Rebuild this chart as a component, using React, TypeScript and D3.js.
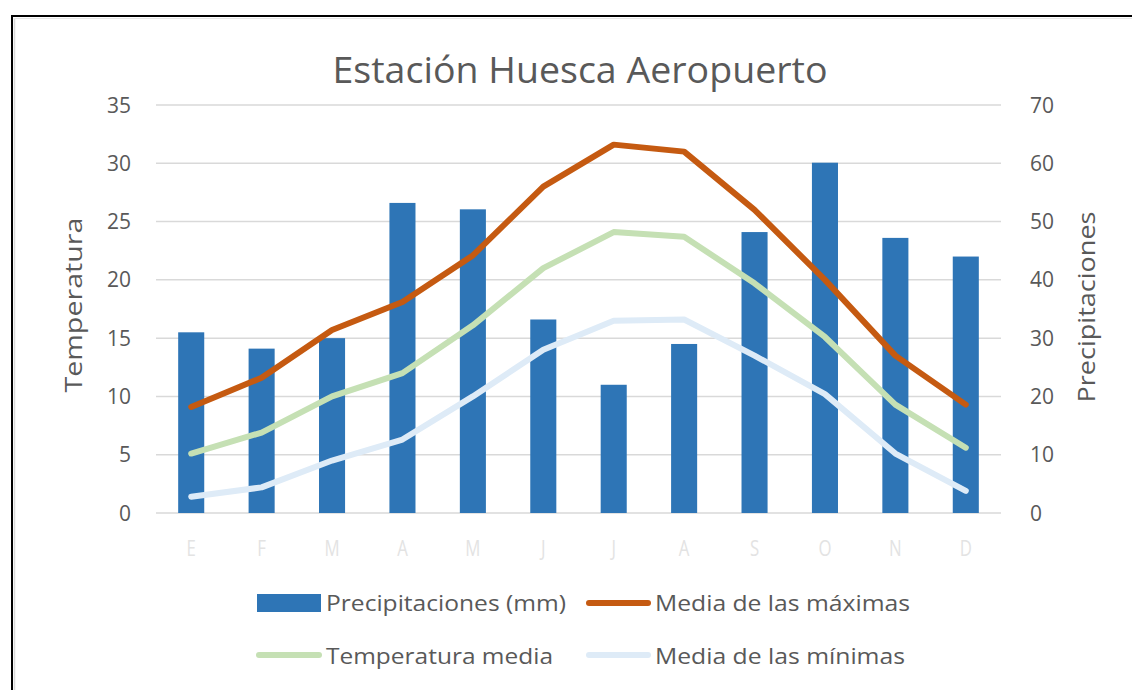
import React from 'react';
import * as d3 from 'd3';

const months = ['E', 'F', 'M', 'A', 'M', 'J', 'J', 'A', 'S', 'O', 'N', 'D'];
const precipitaciones = [31.0, 28.2, 30.0, 53.2, 52.1, 33.2, 22.0, 29.0, 48.2, 60.1, 47.2, 44.0];
const mediaMaximas = [9.1, 11.6, 15.7, 18.1, 22.1, 28.0, 31.6, 31.0, 26.0, 20.0, 13.5, 9.3];
const temperaturaMedia = [5.1, 6.9, 10.0, 12.0, 16.1, 21.0, 24.1, 23.7, 19.7, 15.1, 9.3, 5.6];
const mediaMinimas = [1.4, 2.2, 4.5, 6.3, 10.0, 14.0, 16.5, 16.6, 13.5, 10.2, 5.1, 1.9];
const tempTicks = [0, 5, 10, 15, 20, 25, 30, 35];
const precTicks = [0, 10, 20, 30, 40, 50, 60, 70];

const W = 1132;
const H = 690;
const FONT = "'Open Sans', 'Liberation Sans', sans-serif";
const GREY = '#595959';

const idx = months.map((_, i) => i);

export default function App() {
  const x = d3.scaleBand<number>().domain(idx).range([156, 1001]).padding(0);
  const yT = d3.scaleLinear().domain([0, 35]).range([513, 105]);
  const yP = d3.scaleLinear().domain([0, 70]).range([513, 105]);
  const barW = x.bandwidth() * 0.37;
  const cx = (i: number) => (x(i) ?? 0) + x.bandwidth() / 2;

  const line = (vals: number[]) =>
    d3.line<number>().x((_, i) => cx(i)).y((d) => yT(d))(vals) ?? '';

  const series = [
    { vals: mediaMinimas, color: '#DEEBF7' },
    { vals: temperaturaMedia, color: '#C5E0B4' },
    { vals: mediaMaximas, color: '#C55A11' },
  ];

  return (
    <svg width={W} height={H} style={{ position: 'absolute', left: 0, top: 0, background: '#fff' }} fontFamily={FONT}>
      {/* frame */}
      <rect x={12} y={16} width={W + 20} height={H + 20} fill="none" stroke="#000" strokeWidth={2} />
      <line x1={14.5} y1={18} x2={14.5} y2={H} stroke="#d9d9d9" strokeWidth={1.5} />
      <line x1={14} y1={18.5} x2={W} y2={18.5} stroke="#e6e6e6" strokeWidth={1} />

      <text x={580} y={83} textAnchor="middle" fontSize={36} fill={GREY} textLength={495} lengthAdjust="spacingAndGlyphs">
        Estación Huesca Aeropuerto
      </text>

      {/* grid */}
      {tempTicks.map((t) => (
        <line key={t} x1={156} x2={1001} y1={yT(t)} y2={yT(t)} stroke="#d9d9d9" strokeWidth={1.5} />
      ))}
      {tempTicks.map((t) => (
        <text key={t} x={131} y={yT(t)} dy="0.36em" textAnchor="end" fontSize={21} fill={GREY}>{t}</text>
      ))}
      {precTicks.map((t) => (
        <text key={t} x={1030} y={yP(t)} dy="0.36em" textAnchor="start" fontSize={21} fill={GREY}>{t}</text>
      ))}

      <text transform={`translate(82,305) rotate(-90)`} textAnchor="middle" fontSize={23} fill={GREY} textLength={175} lengthAdjust="spacingAndGlyphs">
        Temperatura
      </text>
      <text transform={`translate(1095,307) rotate(-90)`} textAnchor="middle" fontSize={23} fill={GREY} textLength={191} lengthAdjust="spacingAndGlyphs">
        Precipitaciones
      </text>

      {/* bars */}
      {precipitaciones.map((v, i) => (
        <rect key={i} x={cx(i) - barW / 2} y={yP(v)} width={barW} height={yP(0) - yP(v)} fill="#2E75B6" />
      ))}

      {/* lines */}
      {series.map((s, k) => (
        <path key={k} d={line(s.vals)} fill="none" stroke={s.color} strokeWidth={6} strokeLinecap="round" strokeLinejoin="round" />
      ))}

      {/* x labels */}
      {months.map((m, i) => (
        <text key={i} x={cx(i)} y={548} dy="0.36em" textAnchor="middle" fontSize={21} fill="#e3e3e3" transform={`translate(${cx(i)},0) scale(0.8,1) translate(${-cx(i)},0)`}>
          {m}
        </text>
      ))}

      {/* legend */}
      <rect x={257} y={594} width={64} height={18} fill="#2E75B6" />
      <text x={326} y={611} fontSize={22} fill={GREY} textLength={240} lengthAdjust="spacingAndGlyphs">Precipitaciones (mm)</text>
      <line x1={589} x2={648} y1={603} y2={603} stroke="#C55A11" strokeWidth={6} strokeLinecap="round" />
      <text x={655} y={611} fontSize={22} fill={GREY} textLength={255} lengthAdjust="spacingAndGlyphs">Media de las máximas</text>
      <line x1={259} x2={319} y1={655} y2={655} stroke="#C5E0B4" strokeWidth={6} strokeLinecap="round" />
      <text x={326} y={664} fontSize={22} fill={GREY} textLength={227} lengthAdjust="spacingAndGlyphs">Temperatura media</text>
      <line x1={589} x2={648} y1={655} y2={655} stroke="#DEEBF7" strokeWidth={6} strokeLinecap="round" />
      <text x={655} y={664} fontSize={22} fill={GREY} textLength={250} lengthAdjust="spacingAndGlyphs">Media de las mínimas</text>
    </svg>
  );
}
